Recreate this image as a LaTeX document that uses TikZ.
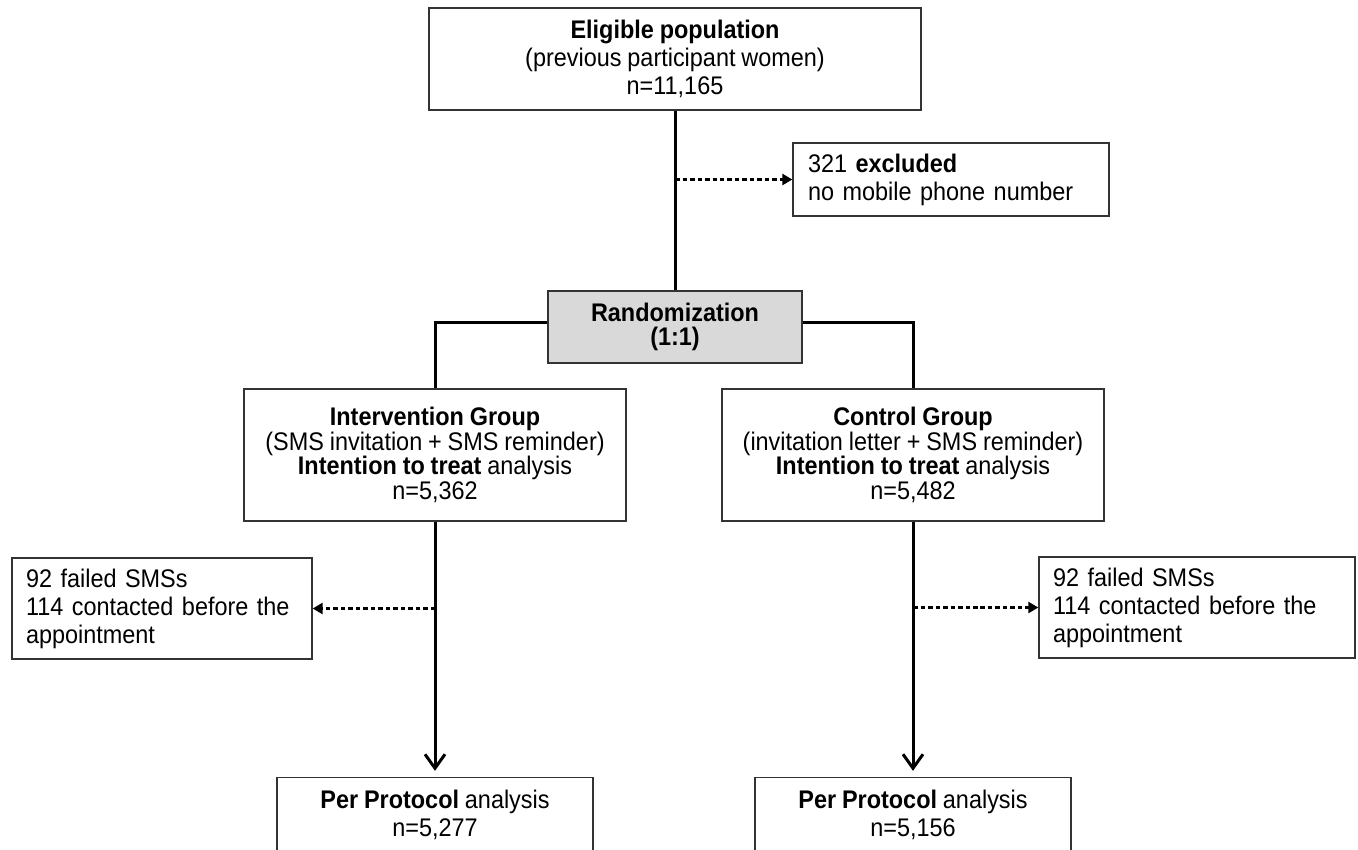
\documentclass[tikz,border=0pt]{standalone}
\usepackage{fontspec}
\setmainfont{Liberation Sans}[FakeStretch=0.92,WordSpace=0.9]
\usetikzlibrary{arrows.meta}
\definecolor{BoxClr}{rgb}{0.2,0.2,0.2}
\definecolor{RandClr}{rgb}{0.85,0.85,0.85}

\begin{document}
\begin{tikzpicture}[x=0.02cm,y=-0.02cm,
  box/.style={draw=BoxClr,line width=0.8pt,fill=white,align=center,inner sep=0pt,
    font=\fontsize{14.5pt}{15.9pt}\selectfont},
  notebox/.style={box,align=left,inner xsep=0.28cm,inner ysep=0pt},
  groupbox/.style={box,font=\fontsize{14.5pt}{13.9pt}\selectfont,minimum width=7.64cm,minimum height=2.64cm},
  ppbox/.style={box,minimum width=6.32cm,minimum height=1.5cm},
  trunk/.style={line width=0.06cm,black},
  exclude/.style={line width=0.07cm,dash pattern=on 0.09cm off 0.06cm,
    -{Triangle[length=0.2cm,width=0.22cm]}},
  flow/.style={trunk,-{Straight Barb[length=0.28cm,width=0.4cm]},shorten >=0.12cm}]
\clip (0,0) rectangle (1358,849);

\node[box,minimum width=9.84cm,minimum height=2.04cm] (elig) at (675,59)
  {\textbf{Eligible population}\\(previous participant women)\\n=11,165};
\node[notebox,text width=5.72cm,inner xsep=0.3cm,minimum height=1.46cm] (excl) at (951,179.5)
  {321 \textbf{excluded}\\no mobile phone number};
\node[box,fill=RandClr,font=\fontsize{14.5pt}{13.3pt}\selectfont,minimum width=5.08cm,minimum height=1.44cm] (rand) at (675,327)
  {\textbf{Randomization}\\\textbf{(1:1)}};

\node[groupbox] (intv) at (435,455)
  {\textbf{Intervention Group}\\(SMS invitation + SMS reminder)\\\textbf{Intention to treat} analysis\\n=5,362};
\node[groupbox] (ctrl) at (913,455)
  {\textbf{Control Group}\\(invitation letter + SMS reminder)\\\textbf{Intention to treat} analysis\\n=5,482};

\node[notebox,text width=5.44cm,minimum height=2.02cm] (failL) at (162,608.5)
  {92 failed SMSs\\114 contacted before the\\appointment};
\node[notebox,text width=5.76cm,minimum height=2.02cm] (failR) at (1197,607.5)
  {92 failed SMSs\\114 contacted before the\\appointment};

\node[ppbox] (ppL) at (435,815) {\textbf{Per Protocol} analysis\\n=5,277};
\node[ppbox] (ppR) at (913,815) {\textbf{Per Protocol} analysis\\n=5,156};

\draw[trunk] (elig.south) -- (rand.north);
\draw[exclude] (elig.south |- excl.west) -- (excl.west);
\draw[trunk] ([yshift=0.1cm]rand.west) -| (intv.north);
\draw[trunk] ([yshift=0.1cm]rand.east) -| (ctrl.north);
\draw[flow] (intv.south) -- (ppL.north);
\draw[flow] (ctrl.south) -- (ppR.north);
\draw[exclude] (intv.south |- failL.east) -- (failL.east);
\draw[exclude] (ctrl.south |- failR.west) -- (failR.west);

\end{tikzpicture}
\end{document}
